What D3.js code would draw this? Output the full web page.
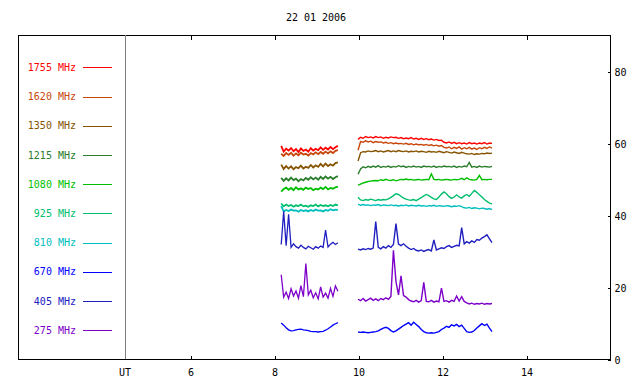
<!DOCTYPE html>
<html><head><meta charset="utf-8">
<script src="https://cdn.jsdelivr.net/npm/d3@7"></script>
<style>html,body{margin:0;padding:0;background:#fff;} svg{display:block;}</style>
</head><body>
<svg id="c" width="640" height="384"></svg>
<script>
const title = "22 01 2006";
const freqs = ["1755 MHz","1620 MHz","1350 MHz","1215 MHz","1080 MHz","925 MHz","810 MHz","670 MHz","405 MHz","275 MHz"];
const colors = ["#ff0000","#c8460a","#865400","#2a7d2a","#00bf00","#00be6e","#00bebe","#0000ff","#2020c0","#7d00c8"];
const xTicks = [6,8,10,12,14];
const yTicks = [0,20,40,60,80];
// segment 1: 8.17 UT .. 9.52 UT, segment 2: 10.00 UT .. 13.19 UT (regular sampling)
const seg1Start = 8.17, seg1End = 9.52;
const seg2Start = 10.0, seg2End = 13.19;

const s1755a = [59.2,57.6,58.4,57.9,58.6,57.7,58.3,57.5,58.5,57.8,58.2,57.6,58.6,57.9,58.4,58.0,58.8,58.1,58.7,58.2,58.9,58.3,58.8,59.2];
const s1620a = [57.0,56.4,57.2,56.7,57.3,56.5,57.1,56.6,57.3,56.8,57.0,56.5,57.2,56.8,57.4,56.9,57.5,57.0,57.6,57.1,57.7,57.2,57.8,58.0];
const s1350a = [54.0,52.8,53.6,52.9,53.5,52.7,53.3,53.0,53.7,52.9,53.4,53.1,53.9,53.2,53.8,53.4,54.2,53.5,54.3,53.6,54.1,53.7,54.4,54.6];
const s1215a = [50.3,49.5,50.2,49.6,50.4,49.7,50.1,49.4,50.0,49.6,50.3,49.8,50.5,49.9,50.4,49.8,50.6,50.0,50.7,50.1,50.6,50.0,50.5,50.8];
const s1080a = [46.5,47.2,47.6,47.0,47.5,46.9,47.7,47.1,47.4,47.0,47.6,47.2,47.5,46.9,47.3,47.1,47.6,47.2,47.8,47.1,47.5,47.3,47.7,47.9];
const s925a  = [43.2,42.4,42.9,42.5,42.8,42.3,42.7,42.5,42.9,42.4,42.6,42.3,42.7,42.5,42.9,42.4,42.8,42.5,42.7,42.4,42.8,42.5,42.9,42.7];
const s810a  = [42.5,41.0,41.4,41.1,41.5,41.2,41.3,40.9,41.4,41.1,41.3,41.0,41.4,41.1,41.5,41.2,41.3,41.0,41.4,41.2,41.6,41.3,41.5,41.4];
const s670a  = [10.0,9.4,8.7,8.1,7.8,7.9,8.1,8.2,8.3,8.1,8.0,7.9,7.7,7.6,7.6,7.5,7.6,7.7,8.0,8.4,8.9,9.4,9.8,10.1];
const s405a  = [31.8,41.0,31.5,40.2,31.0,32.0,31.2,30.8,31.6,31.0,30.6,31.3,30.9,30.5,31.2,30.8,31.4,31.0,35.8,31.1,31.9,32.4,31.8,32.3];
const s275a  = [23.4,17.2,18.6,16.8,19.5,17.5,18.9,16.9,20.4,17.3,26.5,17.8,19.1,17.0,18.4,16.7,20.0,17.2,18.3,16.9,19.6,17.4,20.3,18.8];

const s1755b = [61.0,61.6,61.3,61.8,61.5,61.7,61.4,61.8,61.5,61.7,61.3,61.6,61.4,61.7,61.5,61.6,61.3,61.5,61.2,61.4,61.2,61.5,61.1,61.3,61.0,61.3,61.0,61.2,60.9,61.1,60.8,61.0,60.7,60.8,60.2,60.0,60.3,59.9,60.2,59.8,60.1,59.8,60.0,59.7,60.1,59.8,60.0,59.7,60.0,59.8,60.1,59.7,60.0,59.9];
const s1620b = [58.0,60.4,60.2,60.6,60.3,60.5,60.1,60.4,60.2,60.3,60.0,60.2,59.9,60.1,59.8,60.0,59.8,59.9,59.7,59.9,59.6,59.8,59.5,59.7,59.5,59.6,59.4,59.6,59.3,59.5,59.2,59.4,59.1,59.3,58.8,58.6,58.9,58.4,58.8,58.5,58.9,58.3,58.7,58.4,58.8,58.3,58.6,58.2,58.7,58.4,58.8,58.5,58.9,58.6];
const s1350b = [55.0,57.3,57.6,57.5,57.8,57.6,57.7,57.9,57.6,57.8,57.5,57.7,57.9,57.6,57.8,57.6,57.9,57.7,57.6,57.8,57.5,57.7,57.6,57.8,57.5,57.7,57.6,57.4,57.7,57.5,57.6,57.4,57.7,57.5,57.3,57.6,57.4,57.2,57.5,57.3,57.1,57.4,57.2,57.0,56.9,57.1,56.8,57.0,56.9,57.1,57.0,57.2,57.1,57.2];
const s1215b = [51.3,52.8,53.4,53.1,53.5,53.2,53.6,53.3,53.7,53.2,53.5,53.3,53.6,53.2,53.5,53.3,53.7,53.4,53.6,53.2,53.5,53.3,53.6,53.3,53.5,53.2,53.6,53.4,53.5,53.3,53.6,53.2,53.5,53.3,53.6,53.4,53.5,53.3,53.6,53.2,53.5,53.3,53.6,53.4,54.6,53.3,53.5,53.2,53.6,53.3,53.5,53.4,53.3,53.5];
const s1080b = [48.3,48.6,48.9,49.1,49.3,49.4,49.5,49.6,49.5,49.8,49.6,49.9,49.7,49.6,49.8,49.5,49.7,49.9,49.8,50.0,49.8,49.9,49.7,49.8,49.9,49.7,49.8,49.9,49.8,51.4,49.9,49.8,49.9,49.7,49.8,49.9,49.8,49.7,49.9,49.8,49.9,50.2,49.8,50.3,49.9,49.8,49.7,49.9,51.0,49.8,49.9,49.8,49.9,49.9];
const s925b  = [44.9,44.2,44.0,44.3,44.1,44.4,44.2,44.0,44.3,44.1,44.3,44.2,44.5,44.9,45.4,45.9,45.7,45.2,44.7,44.4,44.2,44.1,44.3,44.0,44.4,44.8,45.3,45.7,45.4,44.9,44.5,44.3,45.0,45.8,46.4,45.9,45.1,44.6,45.0,45.6,45.0,44.7,45.3,45.7,45.2,46.0,46.8,46.3,45.6,45.0,44.3,43.8,43.3,43.1];
const s810b  = [43.0,42.7,42.9,42.7,42.8,42.6,42.8,42.7,42.9,42.6,42.8,42.7,42.6,42.8,42.6,42.7,42.5,42.7,42.6,42.8,42.5,42.7,42.6,42.5,42.7,42.5,42.6,42.4,42.6,42.5,42.7,42.4,42.6,42.5,42.4,42.6,42.5,42.3,42.5,42.4,42.6,42.3,42.0,41.9,42.1,41.8,42.0,41.9,41.7,41.9,41.8,41.6,41.8,41.5];
const s670b  = [7.5,7.4,7.5,7.4,7.3,7.4,7.5,7.6,7.8,8.2,8.6,8.8,8.5,7.9,7.5,7.8,8.3,8.8,9.3,9.7,10.1,9.4,10.2,9.6,9.0,8.2,7.6,7.3,7.2,7.3,7.2,7.4,7.6,8.2,8.6,9.1,8.8,9.5,9.2,9.6,9.0,9.4,8.5,7.6,7.4,7.5,7.9,8.6,9.2,9.8,9.3,9.7,8.6,7.6];
const s405b  = [30.5,30.3,30.6,30.4,30.7,30.5,30.8,38.2,31.0,30.6,31.2,30.8,31.5,31.0,31.8,37.6,31.9,31.5,32.0,31.3,30.8,30.4,30.7,30.2,30.0,30.3,29.9,30.2,30.4,30.0,33.1,30.3,30.6,30.9,30.7,31.2,31.5,31.0,31.3,31.6,31.4,36.5,32.0,32.6,32.2,32.8,32.4,33.2,33.0,33.6,34.0,34.5,33.4,32.3];
const s275b  = [16.6,16.2,16.8,16.1,16.5,16.9,16.3,16.7,16.2,16.8,16.5,17.0,16.6,17.4,30.2,21.5,17.8,23.1,17.6,17.2,16.5,16.1,15.9,16.3,15.8,16.2,21.3,16.0,15.9,16.3,15.8,16.1,15.9,19.7,16.0,16.2,15.8,16.3,16.0,17.5,16.1,17.3,16.0,15.6,15.3,15.5,15.2,15.4,15.3,15.5,15.2,15.4,15.3,15.4];

const seriesA = [s1755a,s1620a,s1350a,s1215a,s1080a,s925a,s810a,s670a,s405a,s275a];
const seriesB = [s1755b,s1620b,s1350b,s1215b,s1080b,s925b,s810b,s670b,s405b,s275b];

const svg = d3.select("#c");
const FONT = "'DejaVu Sans Mono', monospace";
const L = 18, R = 610, T = 35, B = 359, UTX = 125;

const x = d3.scaleLinear().domain([4.45, 16]).range([UTX, R]);
const y = d3.scaleLinear().domain([0, 90]).range([B, T]);

// title
svg.append("text").attr("x", 316).attr("y", 21).attr("text-anchor", "middle")
  .attr("font-family", FONT).attr("font-size", 10).attr("fill", "#000").text(title);

// data lines
const line = d3.line().x(d => x(d[0])).y(d => y(d[1]));
function times(start, end, n) { return d3.range(n).map(i => start + i * (end - start) / (n - 1)); }
const g = svg.append("g");
seriesA.forEach((s, k) => {
  const t = times(seg1Start, seg1End, s.length);
  g.append("path").datum(s.map((v, i) => [t[i], v])).attr("d", line)
    .attr("fill", "none").attr("stroke", colors[k]).attr("stroke-width", k >= 7 ? 1.3 : 1.8);
});
seriesB.forEach((s, k) => {
  const t = times(seg2Start, seg2End, s.length);
  g.append("path").datum(s.map((v, i) => [t[i], v])).attr("d", line)
    .attr("fill", "none").attr("stroke", colors[k]).attr("stroke-width", 1.4);
});

// frame
const fr = svg.append("g").attr("shape-rendering", "crispEdges");
fr.append("rect").attr("x", L + 0.5).attr("y", T + 0.5).attr("width", R - L).attr("height", B - T)
  .attr("fill", "none").attr("stroke", "#000").attr("stroke-width", 1);
fr.append("line").attr("x1", UTX + 0.5).attr("x2", UTX + 0.5).attr("y1", T).attr("y2", B)
  .attr("stroke", "#808080").attr("stroke-width", 1);

// axes
const axB = svg.append("g").attr("transform", `translate(0.5,${B + 0.5})`)
  .call(d3.axisBottom(x).tickValues(xTicks).tickSize(-4).tickPadding(9).tickFormat(d3.format("d")));
const axT = svg.append("g").attr("transform", `translate(0.5,${T + 0.5})`)
  .call(d3.axisTop(x).tickValues(xTicks).tickSize(-4).tickFormat(""));
const axR = svg.append("g").attr("transform", `translate(${R + 0.5},0.5)`)
  .call(d3.axisRight(y).tickValues(yTicks).tickSize(-3).tickPadding(4).tickFormat(d3.format("d")));
[axB, axT, axR].forEach(a => {
  a.select(".domain").remove();
  a.attr("shape-rendering", "crispEdges");
  a.selectAll("text").attr("font-family", FONT).attr("font-size", 10).attr("fill", "#000");
});
axR.selectAll("text").attr("dy", "0.4em");
svg.append("text").attr("x", UTX).attr("y", 376).attr("text-anchor", "middle")
  .attr("font-family", FONT).attr("font-size", 10).attr("fill", "#000").text("UT");

// legend
const ly = d3.scalePoint().domain(freqs).range([67.4, 330.3]);
const lg = svg.append("g");
freqs.forEach((f, k) => {
  lg.append("text").attr("x", 76).attr("y", ly(f)).attr("dy", "0.35em").attr("text-anchor", "end")
    .attr("font-family", FONT).attr("font-size", 10).attr("fill", colors[k]).text(f);
  lg.append("line").attr("x1", 83).attr("x2", 112).attr("y1", Math.round(ly(f)) + 0.5).attr("y2", Math.round(ly(f)) + 0.5)
    .attr("stroke", colors[k]).attr("stroke-width", 1).attr("shape-rendering", "crispEdges");
});
</script>
</body></html>
